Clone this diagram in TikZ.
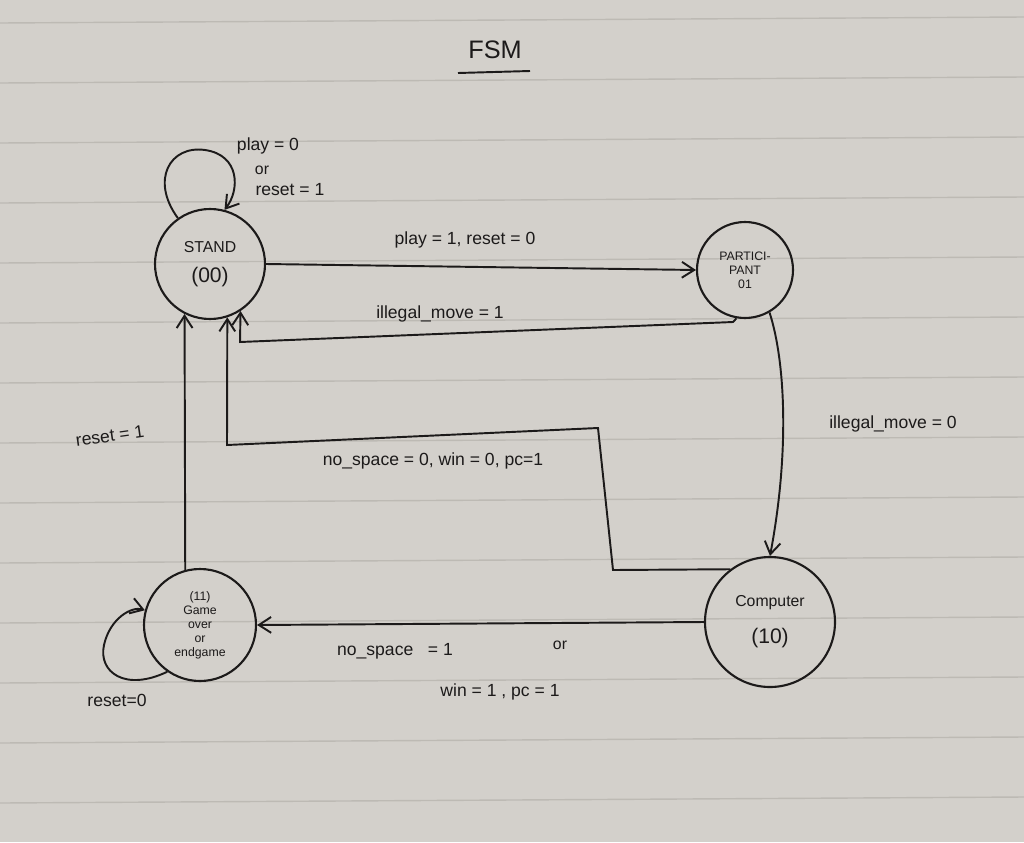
\documentclass[tikz,border=0pt]{standalone}
\usepackage{fontspec}
\setmainfont{Liberation Sans}
\usetikzlibrary{arrows.meta}
\definecolor{paper}{HTML}{D3D0CB}
\definecolor{rule}{HTML}{BDBAB4}
\definecolor{ink}{HTML}{1C1A1A}
\tikzset{
  state/.style={circle,draw=ink,line width=1.2pt,minimum size=#1,inner sep=0pt,align=center,text=ink,font=\small},
  edge/.style={draw=ink,line width=1.1pt,-{Straight Barb[length=7pt,width=9pt]}},
  lbl/.style={text=ink,font=\normalsize,inner sep=1pt},
  ruled/.style={draw=rule,line width=0.8pt}
}
\begin{document}
\begin{tikzpicture}[x=0.02cm,y=-0.02cm]
\useasboundingbox (0,0) rectangle (1024,842);
\fill[paper] (0,0) rectangle (1024,842);
\foreach \y in {23,83,143,203,263,323,383,443,503,563,623,683,743,803}
  \draw[ruled] (0,\y) -- (1024,\y-6);
% title
\node[lbl,font=\Large] (title) at (495,50) {FSM};
\draw[ink,line width=1.1pt] (458,73) -- (530,71);
% states
\node[state=110*0.02cm] (stand) at (210,264) {STAND\\[6pt]{\large (00)}};
\node[state=96*0.02cm,font=\scriptsize] (part) at (745,270) {PARTICI-\\PANT\\01};
\node[state=130*0.02cm] (comp) at (770,622) {Computer\\[10pt]{\large (10)}};
\node[state=112*0.02cm,font=\scriptsize] (over) at (200,625) {(11)\\Game\\over\\or\\endgame};
% coordinates
\coordinate (c1) at (733,322);
\coordinate (c2) at (240,342);
\coordinate (d1) at (613,570);
\coordinate (d2) at (598,428);
\coordinate (d3) at (227,445);
% self loop STAND
\draw[edge] (stand.125) .. controls (150,180) and (170,145) .. (205,150) .. controls (240,155) and (240,190) .. (stand.75);
\node[lbl] (l1) at (268,146) {play = 0};
\node[lbl,font=\small] (l1b) at (262,170) {or};
\node[lbl] (l1c) at (290,190) {reset = 1};
% STAND -> PARTICIPANT
\draw[edge] (stand.east) -- (part.west);
\node[lbl] (l2) at (465,240) {play = 1, reset = 0};
% PARTICIPANT -> STAND
\draw[edge] (part.260) -- (c1) -- (c2) -- (stand.-57);
\node[lbl] (l3) at (440,314) {illegal\_move = 1};
% PARTICIPANT -> Computer
\draw[edge] (part.-60) .. controls (785,360) and (790,450) .. (comp.north);
\node[lbl] (l4) at (893,424) {illegal\_move = 0};
% Computer -> STAND
\draw[edge] (comp.127) -- (d1) -- (d2) -- (d3) -- (stand.-72);
\node[lbl] (l5) at (433,461) {no\_space = 0, win = 0, pc=1};
% Computer -> Game over
\draw[edge] (comp.west) -- (over.east);
\node[lbl] (l6) at (395,651) {no\_space \ \ = 1};
\node[lbl,font=\small] (l6b) at (560,645) {or};
\node[lbl] (l6c) at (500,692) {win = 1 , pc = 1};
% Game over -> STAND
\draw[edge] (over.105) -- (stand.-117);
\node[lbl,rotate=8] (l7) at (110,436) {reset = 1};
% Game over self loop
\draw[edge] (over.235) .. controls (125,692) and (98,672) .. (104,645) .. controls (110,618) and (132,606) .. (over.165);
\node[lbl] (l8) at (117,700) {reset=0};
\end{tikzpicture}
\end{document}
